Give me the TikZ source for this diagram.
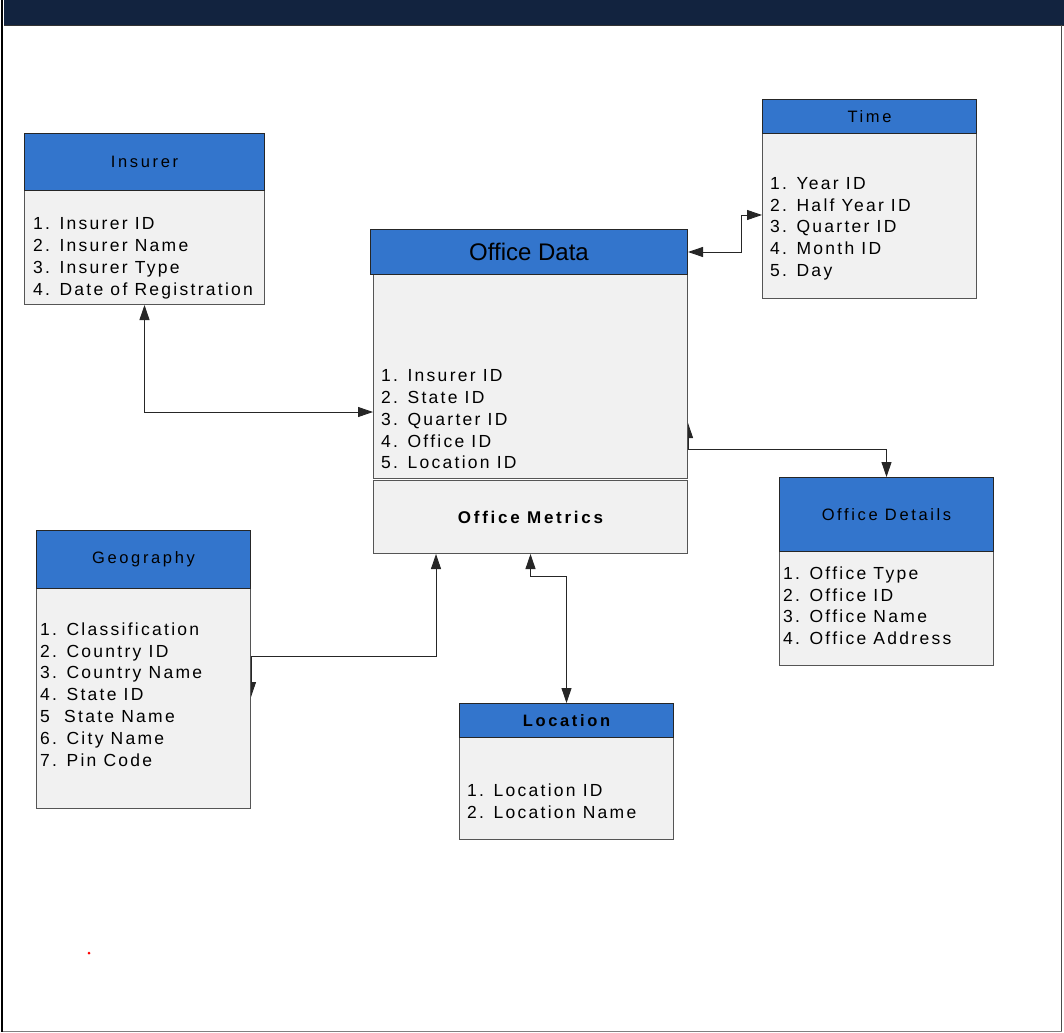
\documentclass[tikz,border=0pt]{standalone}
\usepackage{fontspec}
\setmainfont{Liberation Sans}
\newfontfamily\trackfont[LetterSpace=13]{Liberation Sans}
\newfontfamily\trackhead[LetterSpace=16]{Liberation Sans}
\usetikzlibrary{arrows.meta,backgrounds}

\definecolor{navyband}{HTML}{12233F}
\definecolor{hdrblue}{HTML}{3375CC}
\definecolor{bodygray}{HTML}{F1F1F1}
\definecolor{edgegray}{HTML}{555555}

\tikzset{
  hdr/.style={draw=black!85, fill=hdrblue, line width=1pt, inner sep=0pt,
    anchor=north west, text=black,
    font=\trackhead\fontsize{16.5}{20}\selectfont},
  tblbody/.style={draw=edgegray, fill=bodygray, line width=1pt, inner sep=0pt,
    anchor=north west},
  items/.style={inner sep=0pt, anchor=north west, align=left, text=black,
    font=\trackfont\fontsize{17.5}{21.8}\selectfont},
  link/.style={draw=black!85, line width=0.9pt,
    {Triangle[length=15pt,width=10pt]}-{Triangle[length=15pt,width=10pt]}}
}

\begin{document}
\begin{tikzpicture}[x=1pt,y=-1pt]
  \useasboundingbox (0,0) rectangle (1064,1032);

  % page frame and title band
  \fill[navyband] (4,0) rectangle (1064,25);
  \draw[black!80, line width=1pt] (4,25.5) -- (1064,25.5);
  \fill[black] (1,0) rectangle (3,1032);
  \draw[black!70, line width=1.2pt] (1061.5,25) -- (1061.5,1032);
  \draw[gray, line width=1pt] (3,1031) -- (1062,1031);

  % Insurer
  \node[tblbody, minimum width=240pt, minimum height=114pt] (ins-b) at (24,190) {};
  \node[hdr, minimum width=240pt, minimum height=57pt] (ins-h) at (24,133) {Insurer};
  \node[items] (ins-l) at (33,217.7) {1. Insurer ID\\2. Insurer Name\\3. Insurer Type\\4. Date of Registration};

  % Time
  \node[tblbody, minimum width=214pt, minimum height=165pt] (tm-b) at (762,133) {};
  \node[hdr, minimum width=214pt, minimum height=34pt] (tm-h) at (762,99) {Time};
  \node[items] (tm-l) at (770,177) {1. Year ID\\2. Half Year ID\\3. Quarter ID\\4. Month ID\\5. Day};

  % Office Data
  \node[tblbody, minimum width=314pt, minimum height=204pt] (od-b) at (373,274) {};
  \node[hdr, minimum width=317pt, minimum height=45pt,
        font=\fontsize{24}{28}\selectfont] (od-h) at (370,229) {Office Data};
  \node[items] (od-l) at (381,369.5) {1. Insurer ID\\2. State ID\\3. Quarter ID\\4. Office ID\\5. Location ID};

  % Office Metrics
  \node[tblbody, minimum width=314pt, minimum height=73pt,
        font=\trackhead\bfseries\fontsize{17}{20}\selectfont] (om) at (373,480) {Office Metrics};

  % Office Details
  \node[tblbody, minimum width=214pt, minimum height=114pt] (odt-b) at (779,551) {};
  \node[hdr, minimum width=214pt, minimum height=74pt] (odt-h) at (779,477) {Office Details};
  \node[items] (odt-l) at (783,566.5) {1. Office Type\\2. Office ID\\3. Office Name\\4. Office Address};

  % Geography
  \node[tblbody, minimum width=214pt, minimum height=220pt] (geo-b) at (36,588) {};
  \node[hdr, minimum width=214pt, minimum height=58pt] (geo-h) at (36,530) {Geography};
  \node[items] (geo-l) at (40,622.5) {1. Classification\\2. Country ID\\3. Country Name\\4. State ID\\5\ \ State Name\\6. City Name\\7. Pin Code};

  % Location
  \node[tblbody, minimum width=214pt, minimum height=102pt] (loc-b) at (459,737) {};
  \node[hdr, minimum width=214pt, minimum height=34pt,
        font=\trackhead\bfseries\fontsize{16.5}{20}\selectfont] (loc-h) at (459,703) {Location};
  \node[items] (loc-l) at (467,783.5) {1. Location ID\\2. Location Name};

  % relationships, kept behind the tables
  \begin{scope}[on background layer]
    \draw[link] (ins-b.south) |- (od-b.west |- 0,412);
    \draw[link] (od-h.east) -- ++(53,0) |- (tm-b.west |- 0,215);
    \draw[link] (od-b.east |- 0,423) -- (od-b.east |- 0,449) -| (odt-h.north);
    \draw[link] (geo-b.east |- 0,697) -- (geo-b.east |- 0,656) -| (om.south -| 436,0);
    \draw[link] (om.south) -- ++(0,22) -| (loc-h.north);
  \end{scope}

  % stray mark
  \fill[red] (89,953) circle (1.5pt);
\end{tikzpicture}
\end{document}
